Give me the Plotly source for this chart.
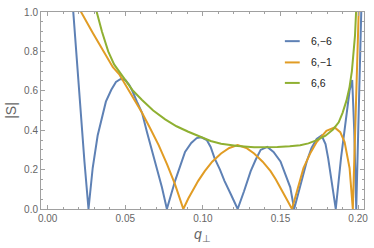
import plotly.graph_objects as go

# ---- data ----
blue_x = [0.0146, 0.0164, 0.0188, 0.0210, 0.0237, 0.0263, 0.0290, 0.0322, 0.0350, 0.0375,
          0.0410, 0.0440, 0.0470, 0.0500, 0.0525, 0.0545, 0.0575, 0.0608, 0.0640, 0.0672,
          0.0705, 0.0736, 0.0768, 0.0821, 0.0855, 0.0885, 0.0925, 0.0960, 0.0990, 0.1025,
          0.1050, 0.1075, 0.1110, 0.1139, 0.1180, 0.1224, 0.1265, 0.1308, 0.1340, 0.1372,
          0.1415, 0.1455, 0.1500, 0.1530, 0.1563, 0.1588, 0.1630, 0.1669, 0.1700, 0.1733,
          0.1765, 0.1790, 0.1807, 0.1830, 0.1856, 0.1890, 0.1924, 0.1945, 0.1962, 0.1975,
          0.1988, 0.2005, 0.2020, 0.2030]
blue_y = [1.2, 1.0, 0.74, 0.488, 0.24, 0.0, 0.208, 0.373, 0.47, 0.545,
          0.605, 0.645, 0.66, 0.655, 0.63, 0.60, 0.545, 0.488, 0.39, 0.29,
          0.20, 0.11, 0.0, 0.143, 0.22, 0.29, 0.335, 0.36, 0.364, 0.35,
          0.315, 0.258, 0.20, 0.143, 0.075, 0.0, 0.09, 0.192, 0.25, 0.30,
          0.315, 0.29, 0.241, 0.18, 0.11, 0.0, 0.13, 0.241, 0.31, 0.356,
          0.373, 0.33, 0.258, 0.14, 0.0, 0.26, 0.488, 0.60, 0.655, 0.40,
          0.0, 0.5, 1.0, 1.3]

orange_x = [0.0195, 0.0215, 0.0290, 0.0365, 0.0420, 0.0460, 0.0524, 0.0560, 0.0608, 0.0660,
            0.0715, 0.0770, 0.0820, 0.0874, 0.0906, 0.0970, 0.1012, 0.1060, 0.1117, 0.1170,
            0.1224, 0.1280, 0.1330, 0.1385, 0.1436, 0.1470, 0.1500, 0.1540, 0.1574, 0.1610,
            0.1648, 0.1690, 0.1733, 0.1796, 0.1849, 0.1885, 0.1913, 0.1945, 0.1966, 0.1985,
            0.2004, 0.2015]
orange_y = [1.1, 1.0, 0.895, 0.79, 0.72, 0.685, 0.60, 0.55, 0.488, 0.41,
            0.324, 0.225, 0.126, 0.0, 0.053, 0.143, 0.192, 0.24, 0.282, 0.31,
            0.324, 0.31, 0.282, 0.24, 0.192, 0.15, 0.11, 0.05, 0.0, 0.10,
            0.208, 0.28, 0.34, 0.397, 0.414, 0.39, 0.34, 0.208, 0.0, 0.5,
            1.0, 1.3]

green_x = [0.0290, 0.0316, 0.0350, 0.0390, 0.0428, 0.0460, 0.0492, 0.0550, 0.0608, 0.0680,
           0.0757, 0.0830, 0.0906, 0.0990, 0.1050, 0.1117, 0.1224, 0.1330, 0.1415, 0.1480,
           0.1560, 0.1627, 0.1680, 0.1730, 0.1790, 0.1840, 0.1875, 0.1900, 0.1925, 0.1945,
           0.1960, 0.1970, 0.1980, 0.1987, 0.2000]
green_y = [1.1, 1.0, 0.90, 0.80, 0.734, 0.70, 0.66, 0.60, 0.553, 0.50,
           0.455, 0.42, 0.392, 0.364, 0.345, 0.331, 0.320, 0.314, 0.314, 0.315,
           0.318, 0.324, 0.333, 0.348, 0.372, 0.405, 0.44, 0.488, 0.55, 0.62,
           0.70, 0.783, 0.88, 1.0, 1.2]

series_names = ["6,\u22126", "6,\u22121", "6,6"]
series_colors = ["#5E81B5", "#E19C24", "#8FB032"]

fig = go.Figure()
for xs, ys, name, col in [(blue_x, blue_y, series_names[0], series_colors[0]),
                          (orange_x, orange_y, series_names[1], series_colors[1]),
                          (green_x, green_y, series_names[2], series_colors[2])]:
    fig.add_trace(go.Scatter(x=xs, y=ys, mode="lines", name=name,
                             line=dict(color=col, width=2), showlegend=False))

# custom legend (Mathematica style)
leg_y = [0.852, 0.744, 0.640]
for name, col, yy in zip(series_names, series_colors, leg_y):
    fig.add_shape(type="line", xref="paper", yref="paper", x0=0.755, x1=0.801,
                  y0=yy, y1=yy, line=dict(color=col, width=2))
    fig.add_annotation(xref="paper", yref="paper", x=0.829, y=yy, text=name,
                       showarrow=False, xanchor="left", yanchor="middle",
                       font=dict(family="Liberation Sans", size=10.5, color="#222"))

frame = "#a0a0a0"
tickfont = dict(family="Liberation Sans", size=10, color="#666")
fig.update_xaxes(range=[-0.0043, 0.2038], tick0=0, dtick=0.05, tickformat=".2f",
                 ticks="inside", ticklen=4, tickcolor=frame, showline=True, linecolor=frame,
                 linewidth=1, mirror="ticks", showgrid=False, zeroline=False,
                 minor=dict(dtick=0.01, tick0=0, ticks="inside", ticklen=2, tickcolor=frame),
                 tickfont=tickfont,
                 title=dict(text="<i>q</i><sub>\u22a5</sub>", standoff=6,
                            font=dict(family="Liberation Sans", size=14, color="#666")))
fig.update_yaxes(range=[0, 1], tick0=0, dtick=0.2, tickformat=".1f",
                 ticks="inside", ticklen=4, tickcolor=frame, showline=True, linecolor=frame,
                 linewidth=1, mirror="ticks", showgrid=False, zeroline=False,
                 minor=dict(dtick=0.05, tick0=0, ticks="inside", ticklen=2, tickcolor=frame),
                 tickfont=tickfont,
                 title=dict(text="|S|", standoff=4,
                            font=dict(family="Liberation Sans", size=14, color="#666")))

fig.update_layout(width=374, height=248, margin=dict(l=41, r=6, t=6, b=39),
                  plot_bgcolor="white", paper_bgcolor="white")
fig.write_html("out.html", config={"displayModeBar": False},
               post_script="document.body.style.margin='0';")
